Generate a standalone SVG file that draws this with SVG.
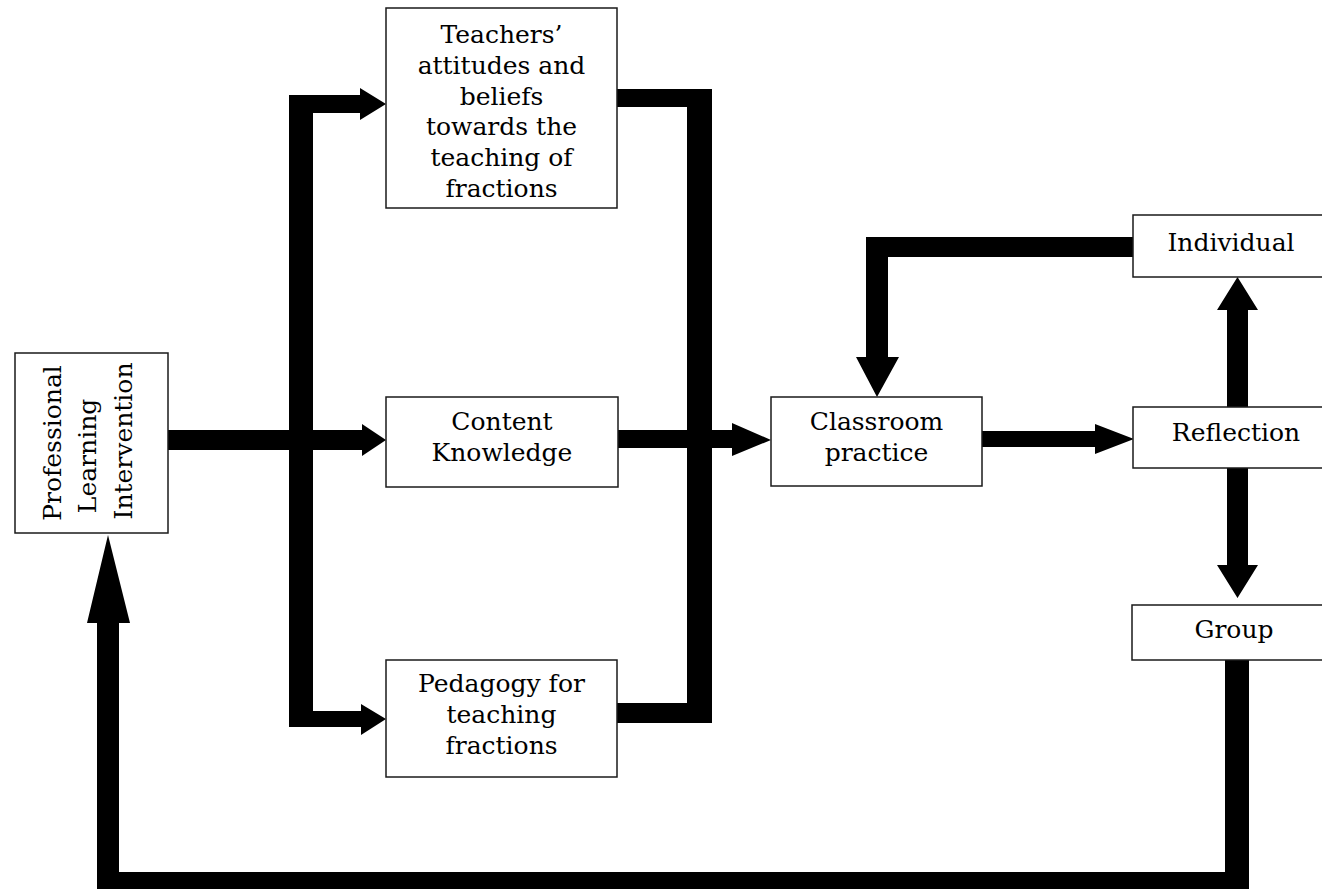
<svg xmlns="http://www.w3.org/2000/svg" width="1322" height="889" viewBox="0 0 1322 889">
<style>
.box{fill:#fff;stroke:#1a1a1a;stroke-width:1.5}
.t{font-family:"DejaVu Serif","Liberation Serif",serif;font-size:25px;fill:#000;text-anchor:middle}
.c{fill:#000;stroke:none}
</style>
<rect width="1322" height="889" fill="#fff"/>
<g id="connectors">
  <!-- PLI to bus and Content Knowledge -->
  <path class="c" d="M168,430H362V424L386,440L362,456V450H168Z"/>
  <!-- left bus -->
  <rect class="c" x="289" y="95" width="24" height="632"/>
  <!-- to Teachers -->
  <path class="c" d="M289,95H360V88L386,104L360,120V113H289Z"/>
  <!-- to Pedagogy -->
  <path class="c" d="M289,711H361V704L386,719L361,735V727H289Z"/>
  <!-- right bus -->
  <rect class="c" x="687" y="89" width="25" height="634"/>
  <rect class="c" x="617" y="89" width="95" height="18"/>
  <rect class="c" x="617" y="703" width="95" height="20"/>
  <!-- Content to Classroom -->
  <path class="c" d="M618,430H732V423L771,440L732,456V448H618Z"/>
  <!-- Classroom to Reflection -->
  <path class="c" d="M982,431H1095V424L1134,439L1095,454V447H982Z"/>
  <!-- Reflection to Individual -->
  <path class="c" d="M1227,407V310H1217L1237.5,277L1258,310H1248V407Z"/>
  <!-- Reflection to Group -->
  <path class="c" d="M1227,468V565H1217L1237.5,598L1258,565H1248V468Z"/>
  <!-- Individual to Classroom -->
  <path class="c" d="M1133,237V257H888V357H899L877,397L856,357H866V237Z"/>
  <!-- Group to PLI -->
  <path class="c" d="M1225,660H1249V889H97V623H87L108,535L130,623H119V872H1225Z"/>
</g>
<g id="pli">
  <rect class="box" x="15" y="353" width="153" height="180"/>
  <text class="t" transform="translate(61,443) rotate(-90)">Professional</text>
  <text class="t" transform="translate(96,456) rotate(-90)">Learning</text>
  <text class="t" transform="translate(132,441) rotate(-90)">Intervention</text>
</g>
<g id="teachers">
  <rect class="box" x="386" y="8" width="231" height="200"/>
  <text class="t" x="501.5" y="43">Teachers’</text>
  <text class="t" x="501.5" y="74">attitudes and</text>
  <text class="t" x="501.5" y="105">beliefs</text>
  <text class="t" x="501.5" y="135">towards the</text>
  <text class="t" x="501.5" y="166">teaching of</text>
  <text class="t" x="501.5" y="197">fractions</text>
</g>
<g id="content">
  <rect class="box" x="386" y="397" width="232" height="90"/>
  <text class="t" x="502" y="430">Content</text>
  <text class="t" x="502" y="461">Knowledge</text>
</g>
<g id="pedagogy">
  <rect class="box" x="386" y="660" width="231" height="117"/>
  <text class="t" x="501.5" y="692">Pedagogy for</text>
  <text class="t" x="501.5" y="723">teaching</text>
  <text class="t" x="501.5" y="754">fractions</text>
</g>
<g id="classroom">
  <rect class="box" x="771" y="397" width="211" height="89"/>
  <text class="t" x="876.5" y="430">Classroom</text>
  <text class="t" x="876.5" y="461">practice</text>
</g>
<g id="individual">
  <rect class="box" x="1133" y="215" width="200" height="62"/>
  <text class="t" x="1231" y="251">Individual</text>
</g>
<g id="reflection">
  <rect class="box" x="1133" y="407" width="200" height="61"/>
  <text class="t" x="1236" y="441">Reflection</text>
</g>
<g id="group">
  <rect class="box" x="1132" y="605" width="200" height="55"/>
  <text class="t" x="1234" y="638">Group</text>
</g>
</svg>
